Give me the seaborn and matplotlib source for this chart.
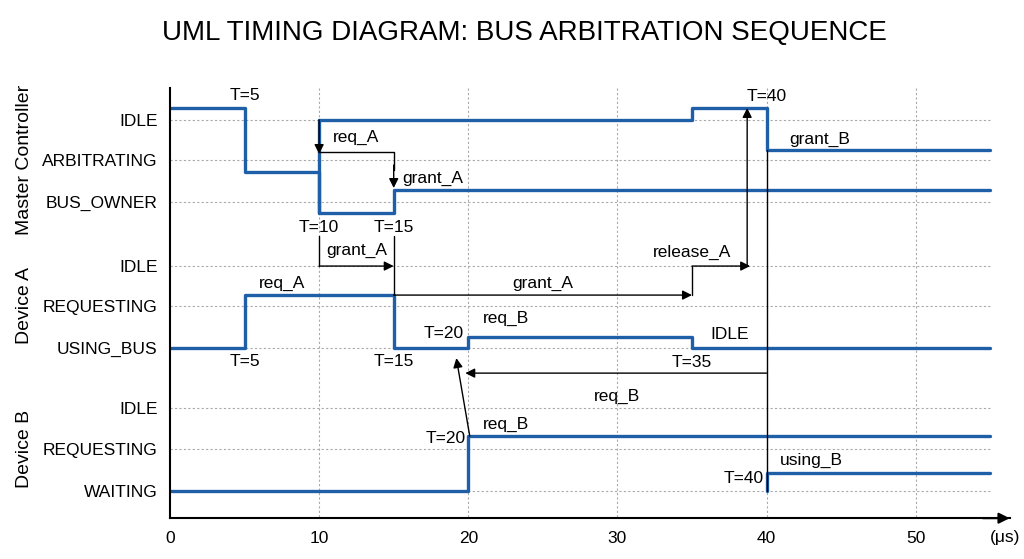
import matplotlib
matplotlib.use("Agg")
import matplotlib.pyplot as plt
import numpy as np
import pandas as pd
import seaborn as sns

sns.set_style("white")
plt.rcParams['font.family'] = ['Liberation Sans Narrow', 'Liberation Sans', 'DejaVu Sans']
plt.rcParams['text.color'] = 'black'
plt.rcParams['xtick.color'] = 'black'
plt.rcParams['ytick.color'] = 'black'
plt.rcParams['axes.edgecolor'] = 'black'

# vertical positions (top-down units) of each state
level_names = ["IDLE", "ARBITRATING", "BUS_OWNER", "IDLE", "REQUESTING", "USING_BUS",
               "IDLE", "REQUESTING", "WAITING"]
level_pos = [120, 160, 202, 266, 306, 348, 408, 449, 491]
lanes = ["Master Controller", "Device A", "Device B"]
lane_pos = [160, 306, 449]

# waveforms: (time, y) step-post
master_1_t = [0, 5, 10, 15, 55]
master_1_y = [108, 172, 213, 190, 190]
master_2_t = [10, 35, 40, 55]
master_2_y = [120, 108, 150, 150]
master_2b_t = [10, 10]
master_2b_y = [120, 213]
dev_a_t = [0, 5, 15, 20, 35, 55]
dev_a_y = [348, 295, 348, 337, 348, 348]
dev_b_t = [0, 20, 55]
dev_b_y = [491, 436, 436]
dev_b2_t = [40, 40, 55]
dev_b2_y = [491, 473, 473]

# text labels: (x, y, text, ha)
labels = [
    (5, 96, "T=5", "center"), (10, 227, "T=10", "center"), (15, 227, "T=15", "center"),
    (12.5, 137, "req_A", "center"), (15.6, 178, "grant_A", "left"), (40, 97, "T=40", "center"),
    (41.5, 139, "grant_B", "left"), (12.5, 250, "grant_A", "center"),
    (35, 252, "release_A", "center"), (7.5, 283, "req_A", "center"), (25, 283, "grant_A", "center"),
    (19.7, 333, "T=20", "right"), (22.5, 318, "req_B", "center"), (37.5, 334, "IDLE", "center"),
    (5, 361, "T=5", "center"), (15, 361, "T=15", "center"), (35, 362, "T=35", "center"),
    (30, 396, "req_B", "center"), (19.8, 438, "T=20", "right"), (22.5, 424, "req_B", "center"),
    (39.8, 478, "T=40", "right"), (43, 460, "using_B", "center"),
]

fig = plt.figure(figsize=(10.24, 5.59), dpi=100)
ax = fig.add_axes([0.166, 0.073, 0.82, 0.775])
blue = "#1f5fa8"

def wave(t, y):
    df = pd.DataFrame({"t": t, "y": y})
    sns.lineplot(data=df, x="t", y="y", ax=ax, color=blue, lw=2.4,
                 drawstyle="steps-post", estimator=None, sort=False)

wave(master_1_t, master_1_y)
wave(master_2_t, master_2_y)
wave(master_2b_t, master_2b_y)
wave(dev_a_t, dev_a_y)
wave(dev_b_t, dev_b_y)
wave(dev_b2_t, dev_b2_y)

# grid
for y in level_pos:
    ax.plot([0, 55], [y, y], color="#aaaaaa", ls=(0, (2, 2)), lw=0.8, zorder=0)
for x in [10, 20, 30, 40, 50]:
    ax.plot([x, x], [88, 518], color="#aaaaaa", ls=(0, (2, 2)), lw=0.8, zorder=0)

k = dict(color="black", lw=1)
arr = dict(arrowstyle="-|>", color="black", lw=1, mutation_scale=14, shrinkA=0, shrinkB=0)
# req_A master
ax.annotate("", xy=(10, 154), xytext=(10, 120), arrowprops=arr)
ax.plot([10, 15, 15], [152, 152, 170], **k)
ax.annotate("", xy=(15, 188), xytext=(15, 165), arrowprops=arr)
# grant_A device A
ax.plot([10, 10], [236, 266], **k)
ax.annotate("", xy=(15, 266), xytext=(10, 266), arrowprops=arr)
ax.plot([15, 15], [236, 295], **k)
ax.annotate("", xy=(35, 295), xytext=(15, 295), arrowprops=arr)
# release_A
ax.plot([35, 35], [295, 266], **k)
ax.annotate("", xy=(38.9, 266), xytext=(35, 266), arrowprops=arr)
ax.annotate("", xy=(38.7, 108), xytext=(38.7, 266), arrowprops=arr)
# vertical at 40
ax.plot([40, 40], [150, 491], **k)
ax.annotate("", xy=(19.8, 373), xytext=(40, 373), arrowprops=arr)
ax.annotate("", xy=(19.2, 358), xytext=(20.1, 436), arrowprops=arr)

for x, y, s, ha in labels:
    ax.text(x, y, s, ha=ha, va="center", fontsize=12.5)

ax.set_xlim(0, 56.3)
ax.set_ylim(518, 85)
ax.set_yticks(level_pos)
ax.set_yticklabels(level_names, fontsize=12.5)
ax.set_xticks([0, 10, 20, 30, 40, 50])
ax.set_xticklabels(["0", "10", "20", "30", "40", "50"], fontsize=12.5)
ax.tick_params(axis="both", direction="out", length=5, width=1.2, color="black", pad=4)
ax.set_xlabel("")
ax.set_ylabel("")
for s in ["top", "right"]:
    ax.spines[s].set_visible(False)
ax.spines["left"].set_bounds(518, 88)
ax.spines["left"].set_linewidth(1.5)
ax.spines["bottom"].set_linewidth(1.5)
ax.annotate("", xy=(56.3, 518), xytext=(54.5, 518), arrowprops=dict(arrowstyle="-|>", color="black", lw=1.5, mutation_scale=16, shrinkA=0, shrinkB=0), annotation_clip=False)
ax.text(56.0, 537, "(μs)", ha="center", va="center", fontsize=12.5)

for name, y in zip(lanes, lane_pos):
    fig.text(0.024, 1 - y / 559, name, rotation=90, ha="center", va="center", fontsize=14)

fig.text(0.512, 1 - 33 / 559, "UML TIMING DIAGRAM: BUS ARBITRATION SEQUENCE",
         ha="center", va="center", fontsize=20)

fig.savefig("out.png", dpi=100)
